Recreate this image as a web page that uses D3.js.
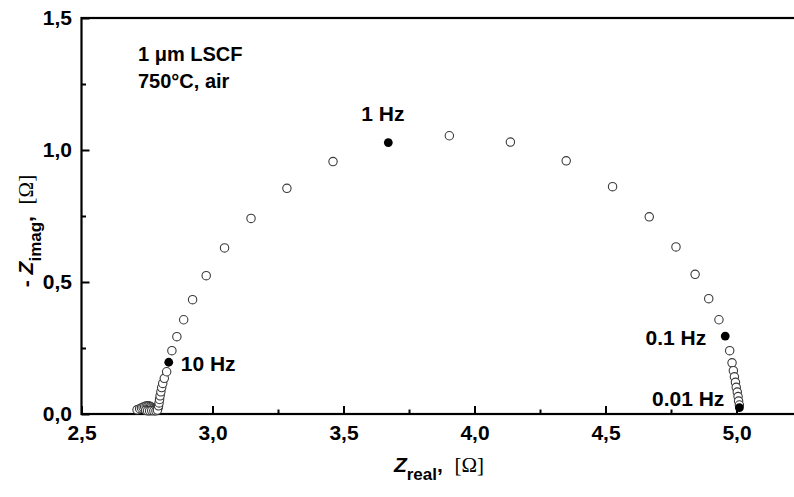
<!DOCTYPE html>
<html><head><meta charset="utf-8">
<script src="https://cdn.jsdelivr.net/npm/d3@7"></script>
<style>
body{margin:0;background:#fff;}
svg{display:block;font-family:"Liberation Sans",Arial,sans-serif;}
</style></head>
<body><svg id="c" width="794" height="497"></svg>
<script>
// ---- data ----
const openReal = [2.712,2.722,2.729,2.735,2.741,2.747,2.753,2.758,2.763,2.767,2.771,2.775,2.779,2.782,2.785,2.788,2.791,2.793,
  2.745,2.752,2.760,2.768,2.776,2.784,2.790,
  2.794,2.796,2.798,2.800,2.803,2.806,2.810,2.816,2.825,
  2.845,2.864,2.890,2.924,2.976,3.046,3.147,3.284,3.460,
  3.904,4.137,4.350,4.527,4.667,4.769,4.842,4.894,4.933,
  4.974,4.983,4.988,4.992,4.996,4.999,5.003,5.006,5.008,5.011];
const openImag = [0.016,0.020,0.023,0.026,0.028,0.030,0.031,0.030,0.028,0.026,0.023,0.021,0.019,0.019,0.019,0.021,0.023,0.026,
  0.014,0.012,0.012,0.013,0.012,0.012,0.015,
  0.031,0.042,0.055,0.069,0.084,0.100,0.116,0.135,0.160,
  0.240,0.293,0.357,0.433,0.524,0.629,0.741,0.855,0.956,
  1.054,1.030,0.959,0.861,0.747,0.633,0.529,0.437,0.357,
  0.240,0.194,0.164,0.141,0.120,0.101,0.083,0.066,0.049,0.034];
const markedReal = [2.833, 3.671, 4.957, 5.011];
const markedImag = [0.196, 1.028, 0.295, 0.024];
const markedLabels = ["10 Hz", "1 Hz", "0.1 Hz", "0.01 Hz"];
const xTicks = [2.5, 3.0, 3.5, 4.0, 4.5, 5.0];
const xMinorTicks = [2.75, 3.25, 3.75, 4.25, 4.75, 5.25];
const yTicks = [0.0, 0.5, 1.0, 1.5];
const yMinorTicks = [0.25, 0.75, 1.25];
const infoLines = ["1 \u03bcm LSCF", "750\u00b0C, air"];

// ---- styling / layout ----
const labelStyle = [
  {dx: 12, dy: 9, anchor: "start"},
  {dx: -27, dy: -22, anchor: "start"},
  {dx: -19, dy: 9, anchor: "end"},
  {dx: -15, dy: -2, anchor: "end"}
];
const svg = d3.select("#c");
const x = d3.scaleLinear().domain([2.5, 5.25]).range([81.5, 802]);
const y = d3.scaleLinear().domain([0, 1.5]).range([414, 18]);
const fmt = d => d3.format(".1f")(d).replace(".", ",");
const FS = 21;

// frame
svg.append("rect").attr("x", x(2.5)).attr("y", y(1.5))
  .attr("width", x(5.25) - x(2.5)).attr("height", y(0) - y(1.5))
  .attr("fill", "none").attr("stroke", "#000").attr("stroke-width", 2.2);

// axes
const gx = svg.append("g").attr("transform", `translate(0,${y(0)})`)
  .call(d3.axisBottom(x).tickValues(xTicks).tickSize(-8).tickSizeOuter(0).tickPadding(11).tickFormat(fmt));
const gxm = svg.append("g").attr("transform", `translate(0,${y(0)})`)
  .call(d3.axisBottom(x).tickValues(xMinorTicks).tickSize(-4.5).tickSizeOuter(0).tickFormat(""));
const gy = svg.append("g").attr("transform", `translate(${x(2.5)},0)`)
  .call(d3.axisLeft(y).tickValues(yTicks).tickSize(-8).tickSizeOuter(0).tickPadding(9.5).tickFormat(fmt));
const gym = svg.append("g").attr("transform", `translate(${x(2.5)},0)`)
  .call(d3.axisLeft(y).tickValues(yMinorTicks).tickSize(-4.5).tickSizeOuter(0).tickFormat(""));
[gx, gxm, gy, gym].forEach(g => {
  g.select(".domain").remove();
  g.selectAll("line").attr("stroke", "#000").attr("stroke-width", 2);
  g.selectAll("text").attr("font-size", FS).attr("font-weight", "bold")
    .attr("font-family", "'Liberation Sans',Arial,sans-serif").attr("fill", "#000");
});

// open points
svg.append("g").selectAll("circle").data(openReal).join("circle")
  .attr("cx", (d) => x(d)).attr("cy", (d, i) => y(openImag[i])).attr("r", 4.2)
  .attr("fill", "#fff").attr("stroke", "#3a3a3a").attr("stroke-width", 1.1);

// marked points
svg.append("g").selectAll("circle").data(markedReal).join("circle")
  .attr("cx", d => x(d)).attr("cy", (d, i) => y(markedImag[i])).attr("r", 4.4)
  .attr("fill", "#000");

// labels
svg.append("g").selectAll("text").data(markedLabels).join("text")
  .attr("x", (d, i) => x(markedReal[i]) + labelStyle[i].dx)
  .attr("y", (d, i) => y(markedImag[i]) + labelStyle[i].dy)
  .attr("text-anchor", (d, i) => labelStyle[i].anchor)
  .attr("font-size", FS).attr("font-weight", "bold").text(d => d);

// info text
svg.append("g").selectAll("text").data(infoLines).join("text")
  .attr("x", 138).attr("y", (d, i) => 61 + i * 27)
  .attr("font-size", 20).attr("font-weight", "bold").text(d => d);

// x title
const xt = svg.append("text").attr("x", 439).attr("y", 472).attr("text-anchor", "middle")
  .attr("font-size", FS).attr("font-weight", "bold");
xt.append("tspan").attr("font-style", "italic").text("Z");
xt.append("tspan").attr("font-size", 17).attr("dy", 8).text("real");
xt.append("tspan").attr("dy", -8).text(",\u00a0\u00a0");
xt.append("tspan").attr("font-weight", "normal").attr("font-family", "'Liberation Serif',serif").text("[\u03a9]");

// y title
const yt = svg.append("text").attr("transform", "translate(33,231) rotate(-90)").attr("text-anchor", "middle")
  .attr("font-size", FS).attr("font-weight", "bold");
yt.append("tspan").text("-\u00a0");
yt.append("tspan").attr("font-style", "italic").text("Z");
yt.append("tspan").attr("font-size", 17).attr("dy", 8).text("imag");
yt.append("tspan").attr("dy", -8).text(",\u00a0\u00a0");
yt.append("tspan").attr("font-weight", "normal").attr("font-family", "'Liberation Serif',serif").text("[\u03a9]");
</script></body></html>
